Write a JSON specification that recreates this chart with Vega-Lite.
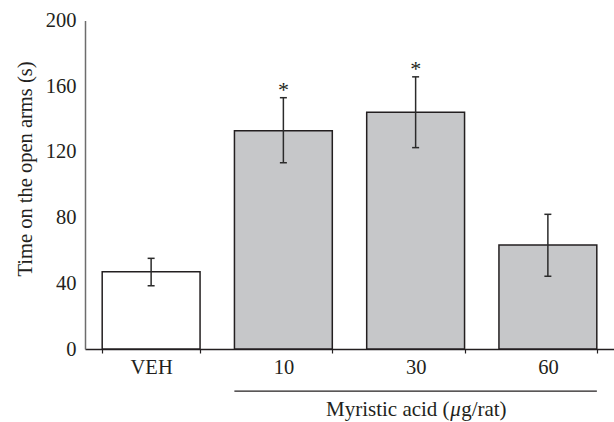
{
  "$schema": "https://vega.github.io/schema/vega-lite/v6.json",
  "width": 529,
  "height": 328.5,
  "autosize": {"type": "none"},
  "padding": {"left": 85, "top": 20.5, "right": 0, "bottom": 73},
  "background": "white",
  "config": {
    "view": {"stroke": null},
    "font": "Liberation Serif",
    "axis": {"labelFont": "Liberation Serif", "titleFont": "Liberation Serif", "labelColor": "#231f20", "titleColor": "#231f20", "titleFontWeight": "normal", "grid": false}
  },
  "data": {
    "values": [
      {"group": "VEH", "mean": 47.1, "lo": 38.5, "hi": 55.2, "sig": ""},
      {"group": "10", "mean": 132.9, "lo": 113.4, "hi": 153.0, "sig": "*"},
      {"group": "30", "mean": 144.2, "lo": 122.6, "hi": 165.7, "sig": "*"},
      {"group": "60", "mean": 63.3, "lo": 44.3, "hi": 82.0, "sig": ""}
    ]
  },
  "layer": [
    {
      "mark": {"type": "bar", "stroke": "#231f20", "strokeWidth": 1.5},
      "encoding": {
        "x": {
          "field": "group", "type": "nominal", "sort": ["VEH", "10", "30", "60"],
          "scale": {"paddingInner": 0.26, "paddingOuter": 0.13},
          "axis": {"title": null, "labelAngle": 0, "labelFontSize": 20.5, "labelPadding": 4, "tickSize": 4, "tickBand": "extent", "bandPosition": 0, "domainColor": "#231f20", "domainWidth": 1.5, "tickColor": "#231f20", "tickWidth": 1.2}
        },
        "y": {
          "field": "mean", "type": "quantitative",
          "scale": {"domain": [0, 200], "nice": false},
          "axis": {"values": [0, 40, 80, 120, 160, 200], "ticks": false, "tickSize": 0, "labelPadding": 9, "labelFontSize": 20.5, "domainColor": "#6d6d6d", "domainWidth": 1.5, "title": "Time on the open arms (s)", "titleFontSize": 20.5, "titleX": -60, "titleY": 148, "titleBaseline": "middle", "titleAngle": -90}
        },
        "fill": {"condition": {"test": "datum.group === 'VEH'", "value": "white"}, "value": "#c6c7c9"}
      }
    },
    {
      "mark": {"type": "rule", "stroke": "#2b2b2b", "strokeWidth": 1.5},
      "encoding": {
        "x": {"field": "group", "type": "nominal", "sort": ["VEH", "10", "30", "60"]},
        "y": {"field": "lo", "type": "quantitative"},
        "y2": {"field": "hi"}
      }
    },
    {
      "mark": {"type": "tick", "orient": "horizontal", "size": 7, "thickness": 1.5, "color": "#2b2b2b", "opacity": 1},
      "encoding": {
        "x": {"field": "group", "type": "nominal", "sort": ["VEH", "10", "30", "60"]},
        "y": {"field": "lo", "type": "quantitative"}
      }
    },
    {
      "mark": {"type": "tick", "orient": "horizontal", "size": 7, "thickness": 1.5, "color": "#2b2b2b", "opacity": 1},
      "encoding": {
        "x": {"field": "group", "type": "nominal", "sort": ["VEH", "10", "30", "60"]},
        "y": {"field": "hi", "type": "quantitative"}
      }
    },
    {
      "mark": {"type": "text", "fontSize": 22, "dy": -1, "baseline": "alphabetic", "color": "#231f20"},
      "encoding": {
        "x": {"field": "group", "type": "nominal", "sort": ["VEH", "10", "30", "60"]},
        "y": {"field": "hi", "type": "quantitative"},
        "text": {"field": "sig"}
      }
    },
    {
      "data": {"values": [{}]},
      "mark": {"type": "rule", "stroke": "#231f20", "strokeWidth": 1.2, "xOffset": -49, "x2Offset": 49},
      "encoding": {
        "x": {"datum": "10", "type": "nominal"},
        "x2": {"datum": "60"},
        "y": {"datum": -25.6, "type": "quantitative"}
      }
    },
    {
      "data": {"values": [{"label": "Myristic acid ("}]},
      "mark": {"type": "text", "fontSize": 21, "align": "right", "baseline": "alphabetic", "dx": 34, "color": "#231f20"},
      "encoding": {
        "x": {"datum": "30", "type": "nominal"},
        "y": {"datum": -40.6, "type": "quantitative"},
        "text": {"field": "label"}
      }
    },
    {
      "data": {"values": [{"label": "μ"}]},
      "mark": {"type": "text", "fontSize": 21, "fontStyle": "italic", "align": "left", "baseline": "alphabetic", "dx": 34.5, "color": "#231f20"},
      "encoding": {
        "x": {"datum": "30", "type": "nominal"},
        "y": {"datum": -40.6, "type": "quantitative"},
        "text": {"field": "label"}
      }
    },
    {
      "data": {"values": [{"label": "g/rat)"}]},
      "mark": {"type": "text", "fontSize": 21, "align": "left", "baseline": "alphabetic", "dx": 45.5, "color": "#231f20"},
      "encoding": {
        "x": {"datum": "30", "type": "nominal"},
        "y": {"datum": -40.6, "type": "quantitative"},
        "text": {"field": "label"}
      }
    }
  ]
}
